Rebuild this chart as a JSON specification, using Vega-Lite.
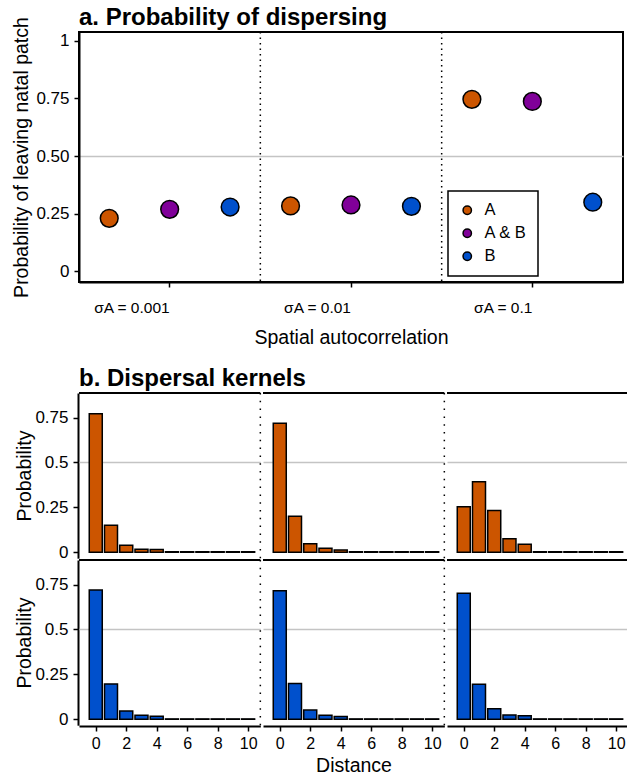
{
  "$schema": "https://vega.github.io/schema/vega-lite/v6.json",
  "padding": {"left": 10, "top": 4, "right": 2, "bottom": 0},
  "bounds": "flush",
  "spacing": 111,
  "datasets": {
    "points": [
      {"sigma": "0.001", "species": "A", "p": 0.230},
      {"sigma": "0.001", "species": "A & B", "p": 0.269},
      {"sigma": "0.001", "species": "B", "p": 0.279},
      {"sigma": "0.01", "species": "A", "p": 0.284},
      {"sigma": "0.01", "species": "A & B", "p": 0.288},
      {"sigma": "0.01", "species": "B", "p": 0.282},
      {"sigma": "0.1", "species": "A", "p": 0.746},
      {"sigma": "0.1", "species": "A & B", "p": 0.737},
      {"sigma": "0.1", "species": "B", "p": 0.300}
    ],
    "separators": [{"sigma": "0.001"}, {"sigma": "0.01"}],
    "kernels": [
      {"species": "A", "sigma": "0.001", "distance": 0, "prob": 0.772},
      {"species": "A", "sigma": "0.001", "distance": 1, "prob": 0.150},
      {"species": "A", "sigma": "0.001", "distance": 2, "prob": 0.039},
      {"species": "A", "sigma": "0.001", "distance": 3, "prob": 0.017},
      {"species": "A", "sigma": "0.001", "distance": 4, "prob": 0.015},
      {"species": "A", "sigma": "0.001", "distance": 5, "prob": 0.003},
      {"species": "A", "sigma": "0.001", "distance": 6, "prob": 0.003},
      {"species": "A", "sigma": "0.001", "distance": 7, "prob": 0.003},
      {"species": "A", "sigma": "0.001", "distance": 8, "prob": 0.003},
      {"species": "A", "sigma": "0.001", "distance": 9, "prob": 0.003},
      {"species": "A", "sigma": "0.001", "distance": 10, "prob": 0.003},
      {"species": "A", "sigma": "0.01", "distance": 0, "prob": 0.718},
      {"species": "A", "sigma": "0.01", "distance": 1, "prob": 0.200},
      {"species": "A", "sigma": "0.01", "distance": 2, "prob": 0.048},
      {"species": "A", "sigma": "0.01", "distance": 3, "prob": 0.022},
      {"species": "A", "sigma": "0.01", "distance": 4, "prob": 0.013},
      {"species": "A", "sigma": "0.01", "distance": 5, "prob": 0.003},
      {"species": "A", "sigma": "0.01", "distance": 6, "prob": 0.003},
      {"species": "A", "sigma": "0.01", "distance": 7, "prob": 0.003},
      {"species": "A", "sigma": "0.01", "distance": 8, "prob": 0.003},
      {"species": "A", "sigma": "0.01", "distance": 9, "prob": 0.003},
      {"species": "A", "sigma": "0.01", "distance": 10, "prob": 0.003},
      {"species": "A", "sigma": "0.1", "distance": 0, "prob": 0.254},
      {"species": "A", "sigma": "0.1", "distance": 1, "prob": 0.393},
      {"species": "A", "sigma": "0.1", "distance": 2, "prob": 0.232},
      {"species": "A", "sigma": "0.1", "distance": 3, "prob": 0.076},
      {"species": "A", "sigma": "0.1", "distance": 4, "prob": 0.045},
      {"species": "A", "sigma": "0.1", "distance": 5, "prob": 0.003},
      {"species": "A", "sigma": "0.1", "distance": 6, "prob": 0.003},
      {"species": "A", "sigma": "0.1", "distance": 7, "prob": 0.003},
      {"species": "A", "sigma": "0.1", "distance": 8, "prob": 0.003},
      {"species": "A", "sigma": "0.1", "distance": 9, "prob": 0.003},
      {"species": "A", "sigma": "0.1", "distance": 10, "prob": 0.003},
      {"species": "B", "sigma": "0.001", "distance": 0, "prob": 0.720},
      {"species": "B", "sigma": "0.001", "distance": 1, "prob": 0.197},
      {"species": "B", "sigma": "0.001", "distance": 2, "prob": 0.046},
      {"species": "B", "sigma": "0.001", "distance": 3, "prob": 0.022},
      {"species": "B", "sigma": "0.001", "distance": 4, "prob": 0.017},
      {"species": "B", "sigma": "0.001", "distance": 5, "prob": 0.002},
      {"species": "B", "sigma": "0.001", "distance": 6, "prob": 0.002},
      {"species": "B", "sigma": "0.001", "distance": 7, "prob": 0.002},
      {"species": "B", "sigma": "0.001", "distance": 8, "prob": 0.002},
      {"species": "B", "sigma": "0.001", "distance": 9, "prob": 0.002},
      {"species": "B", "sigma": "0.001", "distance": 10, "prob": 0.002},
      {"species": "B", "sigma": "0.01", "distance": 0, "prob": 0.716},
      {"species": "B", "sigma": "0.01", "distance": 1, "prob": 0.199},
      {"species": "B", "sigma": "0.01", "distance": 2, "prob": 0.051},
      {"species": "B", "sigma": "0.01", "distance": 3, "prob": 0.022},
      {"species": "B", "sigma": "0.01", "distance": 4, "prob": 0.015},
      {"species": "B", "sigma": "0.01", "distance": 5, "prob": 0.002},
      {"species": "B", "sigma": "0.01", "distance": 6, "prob": 0.002},
      {"species": "B", "sigma": "0.01", "distance": 7, "prob": 0.002},
      {"species": "B", "sigma": "0.01", "distance": 8, "prob": 0.002},
      {"species": "B", "sigma": "0.01", "distance": 9, "prob": 0.002},
      {"species": "B", "sigma": "0.01", "distance": 10, "prob": 0.002},
      {"species": "B", "sigma": "0.1", "distance": 0, "prob": 0.702},
      {"species": "B", "sigma": "0.1", "distance": 1, "prob": 0.195},
      {"species": "B", "sigma": "0.1", "distance": 2, "prob": 0.059},
      {"species": "B", "sigma": "0.1", "distance": 3, "prob": 0.024},
      {"species": "B", "sigma": "0.1", "distance": 4, "prob": 0.019},
      {"species": "B", "sigma": "0.1", "distance": 5, "prob": 0.002},
      {"species": "B", "sigma": "0.1", "distance": 6, "prob": 0.002},
      {"species": "B", "sigma": "0.1", "distance": 7, "prob": 0.002},
      {"species": "B", "sigma": "0.1", "distance": 8, "prob": 0.002},
      {"species": "B", "sigma": "0.1", "distance": 9, "prob": 0.002},
      {"species": "B", "sigma": "0.1", "distance": 10, "prob": 0.002}
    ]
  },
  "vconcat": [
    {
      "title": {"text": "a. Probability of dispersing", "offset": -13},
      "width": 544,
      "height": 250,
      "view": {"stroke": "black", "strokeWidth": 2},
      "layer": [
        {
          "data": {"name": "separators"},
          "mark": {"type": "rule", "color": "black", "strokeWidth": 1.5, "strokeDash": [1.5, 4]},
          "encoding": {
            "x": {"field": "sigma", "type": "nominal", "bandPosition": 1}
          }
        },
        {
          "data": {"name": "points"},
          "mark": {"type": "circle", "size": 315, "stroke": "black", "strokeWidth": 1.5, "opacity": 1},
          "encoding": {
            "x": {
              "field": "sigma", "type": "nominal", "sort": ["0.001", "0.01", "0.1"],
              "scale": {"domain": ["0.001", "0.01", "0.1"], "paddingInner": 0, "paddingOuter": 0},
              "axis": {
                "title": "Spatial autocorrelation", "titleFontSize": 19.5, "titlePadding": 13,
                "labelExpr": "'σA = ' + datum.label", "labelFontSize": 15.5, "labelPadding": 20, "labelAngle": 0
              }
            },
            "xOffset": {
              "field": "species", "type": "nominal",
              "scale": {"type": "point", "domain": ["A", "A & B", "B"], "padding": 0.5}
            },
            "y": {
              "field": "p", "type": "quantitative",
              "scale": {"domain": [-0.046, 1.038], "nice": false, "zero": false, "padding": 0},
              "axis": {
                "title": "Probability of leaving natal patch", "titleFontSize": 19.5, "titlePadding": 4,
                "values": [0, 0.25, 0.5, 0.75, 1],
                "labelExpr": "datum.value == 0 ? '0' : datum.value == 1 ? '1' : format(datum.value, '.2f')",
                "labelFontSize": 17, "labelPadding": 5,
                "grid": true, "gridWidth": 1.5,
                "gridColor": {"condition": {"test": "datum.value === 0.5", "value": "#c4c4c4"}, "value": "rgba(0,0,0,0)"}
              }
            },
            "fill": {
              "field": "species", "type": "nominal",
              "scale": {"domain": ["A", "A & B", "B"], "range": ["#CC5500", "#800099", "#0050CC"]},
              "legend": {
                "orient": "none", "legendX": 369, "legendY": 159, "title": null,
                "strokeColor": "black", "fillColor": "white", "padding": 11,
                "labelFontSize": 16.5, "labelColor": "black", "labelOffset": 9,
                "symbolType": "circle", "symbolSize": 70, "symbolStrokeColor": "black", "symbolStrokeWidth": 1.5,
                "rowPadding": 6
              }
            }
          }
        }
      ]
    },
    {
      "title": {"text": "b. Dispersal kernels", "offset": 1},
      "data": {"name": "kernels"},
      "facet": {
        "row": {"field": "species", "type": "nominal", "sort": ["A", "B"], "header": {"labels": false, "title": null}},
        "column": {
          "field": "sigma", "type": "nominal", "sort": ["0.001", "0.01", "0.1"], "title": "Distance",
          "header": {"labels": false, "titleOrient": "bottom", "titleFontSize": 19.5, "titleFontWeight": "normal", "titleColor": "black", "titleFont": "Liberation Sans", "titlePadding": -4}
        }
      },
      "spacing": {"row": 0, "column": 0},
      "spec": {
        "width": 181.33,
        "height": 165.2,
        "view": {"stroke": null},
        "layer": [
          {
            "mark": {"type": "bar", "width": 13, "stroke": "black", "strokeWidth": 1.5},
            "encoding": {
              "x": {
                "field": "distance", "type": "quantitative",
                "scale": {"domain": [-1.1, 10.8], "nice": false, "zero": false, "padding": 0},
                "axis": {"title": null, "values": [0, 2, 4, 6, 8, 10], "tickCount": 6, "labelFontSize": 16, "labelPadding": 4, "labelOverlap": false, "labelFlush": false, "labelBound": false}
              },
              "y": {
                "field": "prob", "type": "quantitative",
                "scale": {"domain": [-0.033, 0.887], "nice": false, "zero": false, "padding": 0},
                "axis": {
                  "title": "Probability", "titleFontSize": 19.5, "titlePadding": 0,
                  "values": [0, 0.25, 0.5, 0.75], "format": ".2~f",
                  "labelFontSize": 17, "labelPadding": 5,
                  "grid": true, "gridWidth": 1.5,
                  "gridColor": {"condition": {"test": "datum.value === 0.5", "value": "#c4c4c4"}, "value": "rgba(0,0,0,0)"}
                }
              },
              "fill": {
                "field": "species", "type": "nominal",
                "scale": {"domain": ["A", "B"], "range": ["#CC5500", "#0050CC"]},
                "legend": null
              }
            }
          },
          {
            "transform": [{"aggregate": [{"op": "count", "as": "n"}], "groupby": ["sigma", "species"]}],
            "mark": {"type": "rule", "color": "black", "strokeWidth": 1.5},
            "encoding": {
              "x": {"datum": 10.8},
              "strokeDash": {
                "field": "sigma", "type": "nominal",
                "scale": {"domain": ["0.001", "0.01", "0.1"], "range": [[1.5, 6.3], [1.5, 6.3], [1, 0]]},
                "legend": null
              }
            }
          },
          {
            "transform": [{"aggregate": [{"op": "count", "as": "n"}], "groupby": ["sigma", "species"]}],
            "mark": {"type": "rule", "color": "black", "strokeWidth": 2},
            "encoding": {
              "y": {"datum": 0.887}
            }
          }
        ]
      }
    }
  ],
  "resolve": {"scale": {"fill": "independent", "strokeDash": "independent"}, "legend": {"fill": "independent"}},
  "config": {
    "font": "Liberation Sans",
    "view": {"stroke": null},
    "title": {"font": "Liberation Sans", "fontSize": 24, "fontWeight": "bold", "anchor": "start", "color": "black", "frame": "group"},
    "axis": {
      "domainColor": "black", "domainWidth": 2, "tickColor": "black", "tickWidth": 1.5, "tickSize": 5,
      "labelColor": "black", "labelFont": "Liberation Sans", "titleFont": "Liberation Sans",
      "titleFontWeight": "normal", "titleColor": "black", "grid": false
    },
    "legend": {"strokeWidth": 1.5}
  }
}
